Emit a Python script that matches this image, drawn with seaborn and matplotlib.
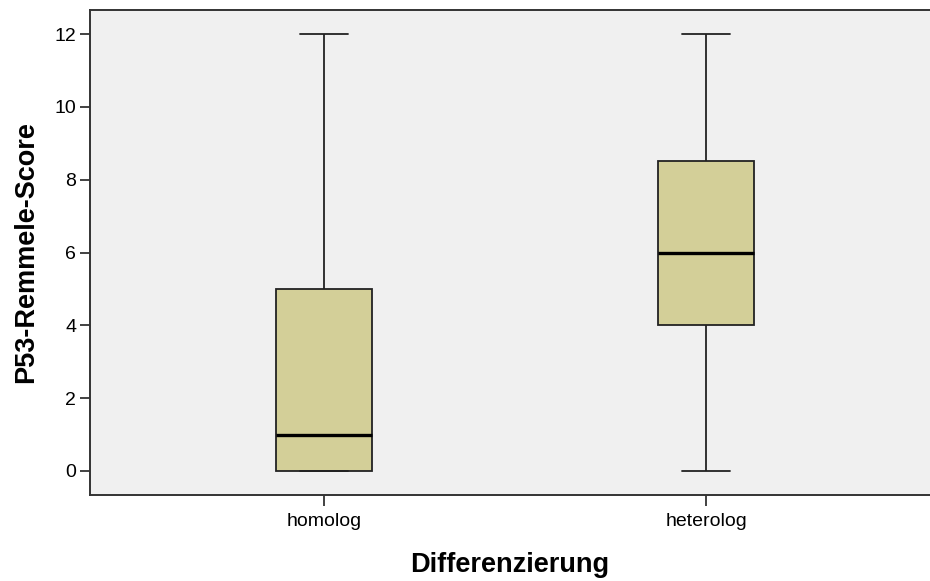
#!/usr/bin/env python3

import pandas as pd
import seaborn as sns
import matplotlib.pyplot as plt

# categories on the x axis
groups = ["homolog", "heterolog"]

# five-number summaries: min, Q1, median, Q3, max
homolog_scores = [0, 0, 1, 5, 12]
heterolog_scores = [0, 4, 6, 8.5, 12]

y_ticks = [0, 2, 4, 6, 8, 10, 12]

df = pd.DataFrame({
    "Differenzierung": ["homolog"] * len(homolog_scores)
    + ["heterolog"] * len(heterolog_scores),
    "P53-Remmele-Score": homolog_scores + heterolog_scores,
})

sns.set_style("ticks", {"axes.facecolor": "#f0f0f0"})
plt.rcParams["font.family"] = ["Liberation Sans", "DejaVu Sans"]
plt.rcParams["text.color"] = "black"
plt.rcParams["axes.labelcolor"] = "black"
plt.rcParams["xtick.labelcolor"] = "black"
plt.rcParams["ytick.labelcolor"] = "black"

fig = plt.figure(figsize=(9.3, 5.81), dpi=100)
ax = fig.add_axes([90 / 930, 1 - 495 / 581, 1 - 90 / 930, (495 - 10) / 581])

sns.boxplot(
    data=df,
    x="Differenzierung",
    y="P53-Remmele-Score",
    order=groups,
    whis=(0, 100),
    width=0.25,
    color="#d3cf98",
    saturation=1,
    linecolor="#222222",
    linewidth=1.3,
    medianprops=dict(color="black", linewidth=2.4),
    ax=ax,
)

ax.set_xlim(-0.613, 1.586)
ax.set_ylim(-0.66, 12.66)
ax.set_yticks(y_ticks)

for side in ["left", "bottom", "top"]:
    ax.spines[side].set_visible(True)
    ax.spines[side].set_color("#333333")
    ax.spines[side].set_linewidth(1.4)
ax.spines["right"].set_visible(False)

ax.tick_params(axis="y", length=7, width=1.3, color="#333333", labelsize=14, pad=3)
ax.tick_params(axis="x", length=8, width=1.3, color="#333333", labelsize=14, pad=5)

ax.set_xlabel("Differenzierung", fontsize=19.5, fontweight="bold", labelpad=16)
ax.set_ylabel("P53-Remmele-Score", fontsize=19.5, fontweight="bold", labelpad=11)

fig.savefig("out.png", dpi=100)
